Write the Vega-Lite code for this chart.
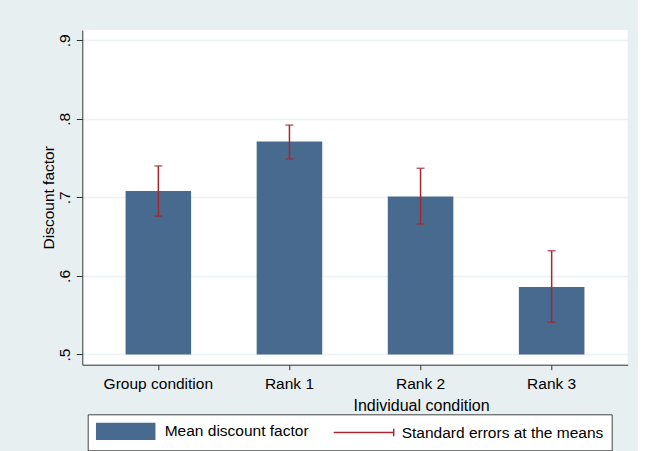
{
  "$schema": "https://vega.github.io/schema/vega-lite/v6.json",
  "autosize": {"type": "none"},
  "padding": {"left": 82.3, "top": 30, "right": 10.3, "bottom": 86.3},
  "width": 545.4,
  "height": 334.7,
  "background": "#e8eff1",
  "data": {
    "values": [
      {"cond": "Group condition", "mean": 0.708, "lo": 0.676, "hi": 0.740},
      {"cond": "Rank 1", "mean": 0.771, "lo": 0.749, "hi": 0.792},
      {"cond": "Rank 2", "mean": 0.701, "lo": 0.666, "hi": 0.737},
      {"cond": "Rank 3", "mean": 0.586, "lo": 0.541, "hi": 0.632}
    ]
  },
  "encoding": {
    "x": {
      "field": "cond",
      "type": "nominal",
      "sort": null,
      "scale": {"paddingInner": 0.5, "paddingOuter": 0.33},
      "axis": {
        "title": "Individual condition",
        "labelAngle": 0,
        "labelBaseline": "alphabetic",
        "labelPadding": 18.6,
        "tickSize": 5,
        "titleX": 338.7,
        "titleY": 45.3,
        "titleAlign": "center",
        "titleBaseline": "alphabetic",
        "titleFontSize": 16
      }
    }
  },
  "layer": [
    {
      "mark": {"type": "bar"},
      "encoding": {
        "y": {
          "field": "mean",
          "type": "quantitative",
          "title": "Discount factor",
          "scale": {"domain": [0.487, 0.913], "nice": false, "zero": false},
          "axis": {
            "values": [0.5, 0.6, 0.7, 0.8, 0.9],
            "labelExpr": "substring(format(datum.value, '.1f'), 1)",
            "title": "Discount factor",
            "labelAngle": -90,
            "labelAlign": "center",
            "labelBaseline": "alphabetic",
            "labelPadding": 7,
            "tickSize": 6,
            "grid": true,
            "gridColor": "#eaf2f3",
            "gridWidth": 1.5,
            "titleX": -29,
            "titleY": 167.3,
            "titleAngle": -90,
            "titleAlign": "center",
            "titleBaseline": "alphabetic"
          }
        },
        "y2": {"datum": 0.5},
        "color": {
          "datum": "Mean discount factor",
          "scale": {
            "domain": ["Mean discount factor", "Standard errors at the means"],
            "range": ["#476a8e", "#a3282f"]
          },
          "legend": {
            "title": null,
            "orient": "none",
            "legendX": 5.4,
            "legendY": 384.3,
            "direction": "horizontal",
            "padding": 8,
            "fillColor": "white",
            "strokeColor": "#444444",
            "symbolSize": 256,
            "symbolStrokeWidth": 1.5,
            "labelFontSize": 15.5,
            "labelColor": "#000000",
            "labelOffset": 51,
            "labelLimit": 400,
            "columnPadding": 22,
            "encode": {
              "symbols": {
                "update": {
                  "shape": {"signal": "datum.value === 'Mean discount factor' ? 'M-1,-0.98H6.25V0.98H-1Z' : 'M-1,0H6.5M6.5,-0.47V0.47'"},
                  "fill": {"signal": "datum.value === 'Mean discount factor' ? '#476a8e' : 'transparent'"},
                  "stroke": {"signal": "datum.value === 'Mean discount factor' ? 'transparent' : '#a3282f'"},
                  "strokeWidth": {"value": 1.5},
                  "opacity": {"value": 1}
                }
              }
            }
          }
        }
      }
    },
    {
      "mark": {"type": "errorbar", "ticks": {"size": 8, "thickness": 1.5}, "rule": {"strokeWidth": 1.5}},
      "encoding": {
        "y": {"field": "lo", "type": "quantitative", "title": "Discount factor"},
        "y2": {"field": "hi"},
        "color": {"datum": "Standard errors at the means"}
      }
    }
  ],
  "config": {
    "font": "Liberation Sans",
    "view": {"fill": "white", "stroke": null},
    "axis": {
      "domainColor": "#333333",
      "tickColor": "#333333",
      "labelColor": "#000000",
      "titleColor": "#000000",
      "labelFontSize": 15.5,
      "titleFontSize": 15.5,
      "titleFontWeight": "normal",
      "grid": false
    }
  }
}
